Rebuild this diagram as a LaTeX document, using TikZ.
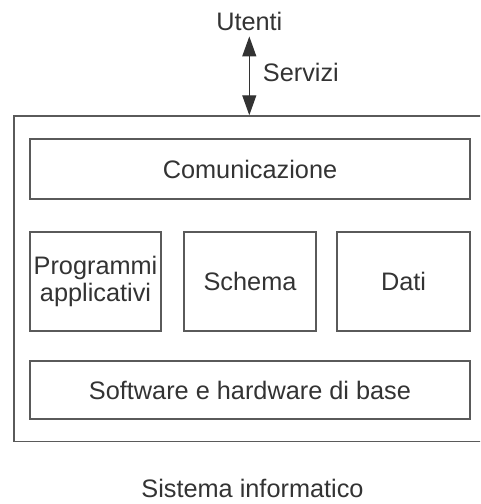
\documentclass[tikz,border=0pt]{standalone}
\usepackage{fontspec}
\setmainfont{Liberation Sans}
\usetikzlibrary{arrows.meta}
\definecolor{txtgray}{HTML}{333333}
\definecolor{linegray}{HTML}{5A5A5A}
\begin{document}
\begin{tikzpicture}[x=1pt,y=-1pt,
  every node/.style={font=\fontsize{25.3}{26.7}\selectfont, text=txtgray, inner sep=0pt},
  box/.style={draw=linegray, line width=1.5pt, align=center}]
\useasboundingbox (0,0) rectangle (480,504);
\clip (0,0) rectangle (480,504);

\node[box, minimum width=472pt, minimum height=325.5pt] (sistema) at (250,278.75) {};
\node[box, minimum width=440pt, minimum height=60pt] (comunicazione) at (250,169) {Comunicazione};
\node[box, minimum width=131pt, minimum height=99pt] (programmi) at (95.5,281.5) {Programmi\\applicativi};
\node[box, minimum width=132pt, minimum height=99pt] (schema) at (250,281.5) {Schema};
\node[box, minimum width=133pt, minimum height=99pt] (dati) at (403.5,281.5) {Dati};
\node[box, minimum width=440pt, minimum height=58pt] (software) at (250,390) {Software e hardware di base};

\node[anchor=base] (utenti) at (249.3,30) {Utenti};
\node[anchor=base west] (servizi) at (262.7,81.7) {Servizi};
\node[anchor=base] (titolo) at (252.5,497) {Sistema informatico};

\draw[txtgray, line width=1.2pt, {Triangle[length=20pt,width=14pt]}-{Triangle[length=20pt,width=14pt]}, shorten <=6pt]
  (utenti.south) -- (utenti.south |- sistema.north);

\end{tikzpicture}
\end{document}
